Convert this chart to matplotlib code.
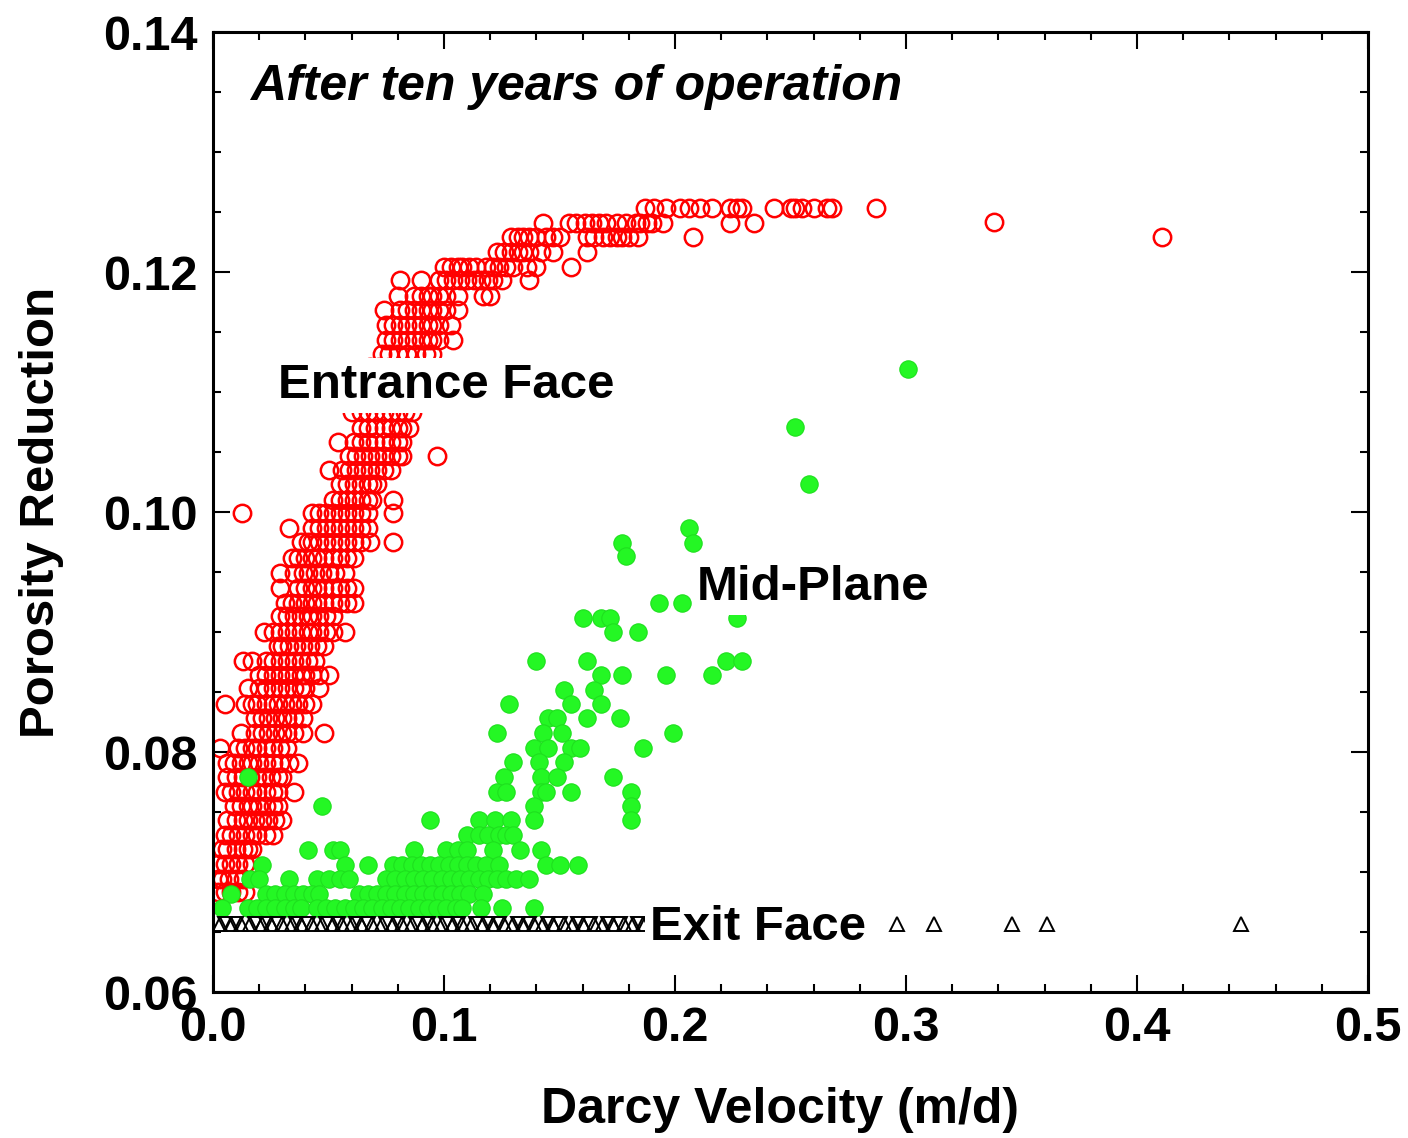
import numpy as np
import matplotlib.pyplot as plt
from matplotlib.ticker import MultipleLocator

plt.rcParams['font.family'] = ['Liberation Sans', 'DejaVu Sans']
plt.rcParams['font.weight'] = 'bold'

# Entrance face (open red circles), one list of velocities per porosity level
red_levels = [0.1253, 0.1242, 0.1229, 0.1241, 0.1229, 0.1217, 0.1204, 0.1193,
              0.1180, 0.1168, 0.1156, 0.1143, 0.1132, 0.1121, 0.1109, 0.1097,
              0.1083, 0.1070, 0.1058, 0.1047, 0.1035, 0.1023, 0.1010, 0.0999,
              0.0987, 0.0975, 0.0962, 0.0949, 0.0937, 0.0924, 0.0913, 0.0900,
              0.0888, 0.0876, 0.0864, 0.0853, 0.0840, 0.0828, 0.0816, 0.0803,
              0.0791, 0.0779, 0.0767, 0.0755, 0.0743, 0.0731, 0.0719, 0.0707,
              0.0694, 0.0683]
red_x_rows = [
    [0.187, 0.191, 0.196, 0.202, 0.206, 0.211, 0.216, 0.224, 0.227, 0.229, 0.243, 0.250, 0.252, 0.255, 0.260, 0.266, 0.268, 0.287],
    [0.338],
    [0.411],
    [0.143, 0.154, 0.157, 0.161, 0.164, 0.167, 0.170, 0.175, 0.179, 0.183, 0.185, 0.188, 0.190, 0.195, 0.224, 0.234],
    [0.129, 0.132, 0.134, 0.137, 0.140, 0.144, 0.147, 0.150, 0.162, 0.165, 0.169, 0.172, 0.175, 0.177, 0.180, 0.184, 0.208],
    [0.123, 0.126, 0.129, 0.132, 0.134, 0.137, 0.142, 0.147, 0.162],
    [0.100, 0.103, 0.106, 0.108, 0.111, 0.114, 0.118, 0.121, 0.124, 0.127, 0.130, 0.136, 0.140, 0.155],
    [0.081, 0.090, 0.098, 0.101, 0.104, 0.107, 0.110, 0.113, 0.116, 0.119, 0.121, 0.125, 0.137],
    [0.080, 0.087, 0.090, 0.093, 0.095, 0.098, 0.101, 0.106, 0.117, 0.120],
    [0.074, 0.081, 0.084, 0.087, 0.090, 0.093, 0.095, 0.098, 0.101, 0.106],
    [0.075, 0.078, 0.081, 0.084, 0.087, 0.090, 0.093, 0.095, 0.098, 0.103],
    [0.075, 0.078, 0.081, 0.084, 0.087, 0.090, 0.093, 0.095, 0.098, 0.104],
    [0.073, 0.076, 0.080, 0.084, 0.088, 0.092, 0.095],
    [0.068, 0.072, 0.076, 0.080, 0.084, 0.088],
    [0.066, 0.070, 0.074, 0.078, 0.082, 0.086],
    [0.063, 0.067, 0.071, 0.075, 0.079, 0.084],
    [0.060, 0.064, 0.067, 0.070, 0.074, 0.077, 0.080, 0.083, 0.086],
    [0.064, 0.067, 0.070, 0.074, 0.077, 0.080, 0.082, 0.085],
    [0.054, 0.061, 0.064, 0.067, 0.070, 0.074, 0.077, 0.080, 0.082],
    [0.059, 0.062, 0.065, 0.068, 0.071, 0.074, 0.077, 0.080, 0.082, 0.097],
    [0.050, 0.056, 0.059, 0.062, 0.065, 0.068, 0.071, 0.074, 0.077],
    [0.055, 0.058, 0.061, 0.064, 0.067, 0.069, 0.071],
    [0.052, 0.055, 0.058, 0.061, 0.064, 0.067, 0.069, 0.078],
    [0.0126, 0.043, 0.046, 0.049, 0.052, 0.055, 0.058, 0.061, 0.064, 0.067, 0.078],
    [0.033, 0.043, 0.046, 0.049, 0.052, 0.055, 0.058, 0.061, 0.064, 0.067],
    [0.038, 0.041, 0.043, 0.046, 0.049, 0.052, 0.055, 0.058, 0.061, 0.064, 0.068, 0.078],
    [0.034, 0.037, 0.040, 0.043, 0.045, 0.048, 0.052, 0.055, 0.058, 0.061],
    [0.029, 0.035, 0.039, 0.041, 0.044, 0.047, 0.050, 0.053, 0.057],
    [0.029, 0.037, 0.040, 0.043, 0.045, 0.048, 0.052, 0.055, 0.058, 0.061],
    [0.031, 0.034, 0.037, 0.040, 0.043, 0.045, 0.048, 0.052, 0.055, 0.058, 0.061],
    [0.029, 0.032, 0.035, 0.038, 0.041, 0.043, 0.046, 0.049, 0.052],
    [0.022, 0.026, 0.029, 0.032, 0.035, 0.038, 0.041, 0.043, 0.046, 0.049, 0.052, 0.057],
    [0.028, 0.030, 0.033, 0.036, 0.039, 0.042, 0.045, 0.048],
    [0.013, 0.017, 0.023, 0.026, 0.029, 0.032, 0.035, 0.038, 0.041, 0.044],
    [0.020, 0.023, 0.026, 0.029, 0.032, 0.035, 0.038, 0.040, 0.043, 0.046, 0.050],
    [0.015, 0.020, 0.023, 0.026, 0.029, 0.032, 0.035, 0.038, 0.040, 0.046],
    [0.005, 0.014, 0.017, 0.019, 0.023, 0.026, 0.028, 0.031, 0.034, 0.037, 0.040, 0.043],
    [0.018, 0.021, 0.024, 0.027, 0.030, 0.032, 0.035, 0.039],
    [0.012, 0.018, 0.021, 0.024, 0.027, 0.030, 0.032, 0.035, 0.039, 0.048],
    [0.003, 0.011, 0.014, 0.017, 0.019, 0.023, 0.026, 0.029, 0.032],
    [0.006, 0.009, 0.012, 0.015, 0.017, 0.020, 0.023, 0.026, 0.029, 0.033, 0.037],
    [0.006, 0.010, 0.013, 0.016, 0.019, 0.022, 0.025, 0.028, 0.030],
    [0.005, 0.008, 0.011, 0.014, 0.017, 0.019, 0.023, 0.026, 0.028, 0.035],
    [0.009, 0.012, 0.015, 0.017, 0.020, 0.023, 0.026, 0.028],
    [0.006, 0.010, 0.013, 0.015, 0.018, 0.021, 0.024, 0.027, 0.030],
    [0.005, 0.008, 0.011, 0.014, 0.017, 0.019, 0.023, 0.026],
    [0.004, 0.006, 0.010, 0.013, 0.015, 0.017],
    [0.002, 0.005, 0.008, 0.011, 0.014, 0.017],
    [0.002, 0.004, 0.007, 0.010, 0.013],
    [0.002, 0.005, 0.008, 0.011, 0.014],
]

# Mid-plane (filled green circles)
green_levels = [0.1119, 0.1071, 0.1023, 0.0987, 0.0974, 0.0963, 0.0924, 0.0912,
                0.0900, 0.0876, 0.0864, 0.0852, 0.0840, 0.0828, 0.0816, 0.0803,
                0.0792, 0.0779, 0.0767, 0.0755, 0.0743, 0.0731, 0.0718, 0.0706,
                0.0694, 0.0682, 0.0670]
green_x_rows = [
    [0.301],
    [0.252],
    [0.258],
    [0.206],
    [0.177, 0.208],
    [0.179],
    [0.193, 0.203],
    [0.160, 0.168, 0.172, 0.227],
    [0.173, 0.184],
    [0.140, 0.162, 0.222, 0.229],
    [0.168, 0.177, 0.196, 0.216],
    [0.152, 0.165],
    [0.128, 0.155, 0.168],
    [0.145, 0.149, 0.162, 0.176],
    [0.123, 0.143, 0.151, 0.199],
    [0.139, 0.145, 0.155, 0.159, 0.186],
    [0.130, 0.141, 0.152],
    [0.015, 0.126, 0.142, 0.149, 0.173],
    [0.123, 0.127, 0.142, 0.144, 0.155, 0.181],
    [0.047, 0.139, 0.181],
    [0.094, 0.115, 0.122, 0.129, 0.139, 0.181],
    [0.110, 0.115, 0.119, 0.124, 0.127, 0.130],
    [0.041, 0.052, 0.055, 0.087, 0.101, 0.106, 0.110, 0.121, 0.133, 0.142],
    [0.021, 0.057, 0.067, 0.078, 0.082, 0.086, 0.090, 0.094, 0.098, 0.102, 0.106,
     0.110, 0.114, 0.118, 0.124, 0.144, 0.150, 0.158],
    [0.016, 0.020, 0.033, 0.045, 0.050, 0.055, 0.059, 0.075, 0.079, 0.083, 0.087,
     0.091, 0.095, 0.099, 0.103, 0.107, 0.111, 0.115, 0.119, 0.123, 0.127, 0.131, 0.137],
    [0.008, 0.023, 0.027, 0.031, 0.035, 0.039, 0.043, 0.046, 0.063, 0.067, 0.071,
     0.075, 0.079, 0.083, 0.087, 0.091, 0.095, 0.099, 0.103, 0.107, 0.111, 0.117],
    [0.004, 0.015, 0.019, 0.023, 0.027, 0.031, 0.035, 0.038, 0.045, 0.049, 0.053,
     0.057, 0.061, 0.065, 0.069, 0.073, 0.077, 0.081, 0.085, 0.089, 0.093, 0.097,
     0.101, 0.105, 0.108, 0.116, 0.125, 0.139],
]

# Exit face (open black triangles)
exit_level = 0.0657
exit_x = [0.003, 0.008, 0.012, 0.016, 0.021, 0.025, 0.030, 0.034, 0.038, 0.043,
          0.047, 0.052, 0.056, 0.060, 0.064, 0.069, 0.073, 0.078, 0.082, 0.086,
          0.091, 0.095, 0.099, 0.104, 0.108, 0.112, 0.117, 0.121, 0.126, 0.130,
          0.134, 0.139, 0.143, 0.147, 0.152, 0.156, 0.160, 0.165, 0.169, 0.173,
          0.178, 0.182, 0.186, 0.296, 0.312, 0.346, 0.361, 0.445]
exit_x_down = [0.005, 0.010, 0.018, 0.023, 0.028, 0.036, 0.041, 0.049, 0.054,
               0.062, 0.067, 0.075, 0.080, 0.088, 0.093, 0.101, 0.106, 0.114,
               0.119, 0.124, 0.132, 0.137, 0.145, 0.150, 0.158, 0.163, 0.171,
               0.176, 0.184]

red_x = [x for row in red_x_rows for x in row]
red_y = [lv for lv, row in zip(red_levels, red_x_rows) for _ in row]
green_x = [x for row in green_x_rows for x in row]
green_y = [lv for lv, row in zip(green_levels, green_x_rows) for _ in row]

fig = plt.figure(figsize=(14.08, 11.38), dpi=100)
ax = fig.add_axes([213 / 1408, 1 - 992 / 1138, 1155 / 1408, 960 / 1138])

ax.plot(red_x, red_y, 'o', ms=12.5, mfc='none', mec='#ff0000', mew=1.8, ls='none')
ax.plot(green_x, green_y, 'o', ms=12.5, mfc='#24f724', mec='#1ee01e', mew=0.8, ls='none')
ax.plot(exit_x, [exit_level] * len(exit_x), '^', ms=10.5, mfc='none', mec='black', mew=1.4, ls='none')
ax.plot(exit_x_down, [exit_level] * len(exit_x_down), 'v', ms=10.5, mfc='none', mec='black', mew=1.4, ls='none')

box = dict(boxstyle='square,pad=0.1', fc='white', ec='none')
ax.text(0.016, 0.1343, 'After ten years of operation', fontsize=36, style='italic',
        fontweight='bold', va='baseline')
ax.text(0.028, 0.1095, 'Entrance Face', fontsize=35.5, fontweight='bold', va='baseline', bbox=box)
ax.text(0.2095, 0.0927, 'Mid-Plane', fontsize=35.5, fontweight='bold', va='baseline', bbox=box)
ax.text(0.189, 0.0643, 'Exit Face', fontsize=35.5, fontweight='bold', va='baseline', bbox=box)

ax.set_xlim(0, 0.5)
ax.set_ylim(0.06, 0.14)
ax.set_xticks([0.0, 0.1, 0.2, 0.3, 0.4, 0.5])
ax.set_xticklabels(['0.0', '0.1', '0.2', '0.3', '0.4', '0.5'])
ax.set_yticks([0.06, 0.08, 0.10, 0.12, 0.14])
ax.set_yticklabels(['0.06', '0.08', '0.10', '0.12', '0.14'])
ax.xaxis.set_minor_locator(MultipleLocator(0.02))
ax.yaxis.set_minor_locator(MultipleLocator(0.005))
ax.tick_params(which='both', direction='in', top=True, right=True, width=1.5,
               labelsize=35)
ax.tick_params(which='major', length=12)
ax.tick_params(which='minor', length=6)
ax.tick_params(axis='y', pad=11)
ax.tick_params(axis='x', pad=10)
for s in ax.spines.values():
    s.set_linewidth(2.2)

ax.set_xlabel('Darcy Velocity (m/d)', fontsize=36, fontweight='bold', labelpad=26)
ax.xaxis.label.set_x(0.4913)
ax.set_ylabel('Porosity Reduction', fontsize=35.5, fontweight='bold', labelpad=28)

fig.savefig('out.png', dpi=100)
